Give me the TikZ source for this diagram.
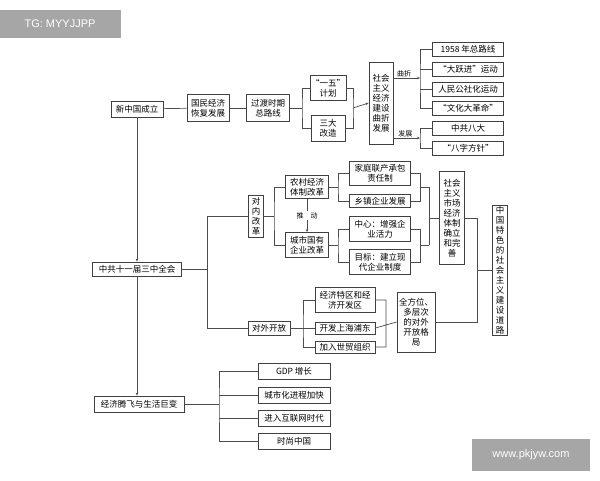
\documentclass[tikz,border=0pt]{standalone}
\usepackage{fontspec}
\setmainfont{Liberation Sans}
\newfontfamily\cjk{Noto Sans CJK SC}
\usetikzlibrary{arrows.meta}
\begin{document}
\begin{tikzpicture}[x=1pt,y=-1pt,
  bx/.style={draw=black!75,line width=0.8pt,fill=white,inner sep=1pt,align=center,font=\cjk\fontsize{8.5}{10}\selectfont},
  ln/.style={draw=black!70,line width=0.7pt},
  ar/.style={ln,-{Stealth[length=3pt,width=2.5pt]}},
  lab/.style={font=\cjk\fontsize{7}{8}\selectfont,inner sep=1pt},
  wm/.style={fill=black!35,text=white,font=\fontsize{11}{12}\selectfont,inner sep=0pt}]
\useasboundingbox (0,0) rectangle (600,480);
\fill[white] (0,0) rectangle (600,480);
\node[wm,minimum width=122,minimum height=28] (w1) at (60,24) {TG: MYYJJPP};
\node[wm,minimum width=118,minimum height=32] (w2) at (531,455) {www.pkjyw.com};
% top row
\node[bx,minimum width=52,minimum height=16] (xz) at (137,109) {新中国成立};
\node[bx,minimum width=42,minimum height=27] (gm) at (208,108) {国民经济\\恢复发展};
\node[bx,minimum width=43,minimum height=27] (gd) at (268,108) {过渡时期\\总路线};
\node[bx,minimum width=34,minimum height=25] (yw) at (328,88) {“一五”\\计划};
\node[bx,minimum width=34,minimum height=26] (sd) at (328,128) {三大\\改造};
\node[bx,minimum width=24,minimum height=82] (sh) at (381,103) {社会\\主义\\经济\\建设\\曲折\\发展};
\foreach \n/\t/\y in {a1/1958 {\cjk 年总路线}/49, a2/“大跃进”运动/69, a3/人民公社化运动/89, a4/“文化大革命”/108, b1/中共八大/128, b2/“八字方针”/148}
  \node[bx,minimum width=71,minimum height=14] (\n) at (468,\y) {\t};
\draw[ln] (xz) -- (gm); \draw[ln] (gm) -- (gd);
\coordinate (j1) at (302,108); \coordinate (j2) at (353,108);
\draw[ln] (gd) -- (j1) (yw.west) -| (j1) |- (sd.west);
\draw[ln] (yw.east) -| (j2) |- (sd.east);
\draw[ar] (j2) -- (sh.west);
\coordinate (q) at (420,78); \coordinate (f) at (420,138);
\draw[ar] (sh.east |- q) -- node[lab,above,pos=0.4]{曲折} (q);
\draw[ln] (a1.west) -| (q) |- (a4.west) (q |- a2.west) -- (a2.west) (q |- a3.west) -- (a3.west);
\draw[ar] (sh.east |- f) -- node[lab,above,pos=0.45]{发展} (f);
\draw[ln] (b1.west) -| (f) |- (b2.west);
% middle
\node[bx,minimum width=89,minimum height=14] (sz) at (137,269) {中共十一届三中全会};
\draw[ar] (xz) -- (sz);
\node[bx,minimum width=15,minimum height=42] (dn) at (256,216) {对\\内\\改\\革};
\node[bx,minimum width=42,minimum height=14] (dw) at (269,328) {对外开放};
\coordinate (k1) at (207,269);
\draw[ln] (sz) -- (k1) (k1 |- dn) -- (dn.west) (k1 |- dn) -- (k1 |- dw) -- (dw.west);
\node[bx,minimum width=43,minimum height=23] (nc) at (307,187) {农村经济\\体制改革};
\node[bx,minimum width=43,minimum height=25] (cs) at (307,245) {城市国有\\企业改革};
\draw[ln] (dn.east) -- (274,216) (nc.west) -| (274,216) |- (cs.west);
\draw[ar] (nc) -- node[lab,fill=white]{推\quad 动} (cs);
\node[bx,minimum width=61,minimum height=24] (jt) at (380,173) {家庭联产承包\\责任制};
\node[bx,minimum width=61,minimum height=13] (xzq) at (380,201) {乡镇企业发展};
\node[bx,minimum width=61,minimum height=25] (zx) at (380,229) {中心：增强企\\业活力};
\node[bx,minimum width=61,minimum height=25] (mb) at (380,262) {目标：建立现\\代企业制度};
\draw[ln] (nc.east) -- (338,187) (jt.west) -| (338,187) |- (xzq.west);
\draw[ln] (cs.east) -- (338,245) (zx.west) -| (338,245) |- (mb.west);
\node[bx,minimum width=25,minimum height=93] (sc) at (452,218) {社会\\主义\\市场\\经济\\体制\\确立\\和完\\善};
\draw[ln] (jt.east) -- (420,173) -- (420,201) -- (xzq.east) (420,187) -- (429,187);
\draw[ln] (zx.east) -- (420,229) -- (420,262) -- (mb.east) (420,245) -- (429,245);
\draw[ln] (429,187) -- (429,245) (429,218) -- (sc.west);
\node[bx,minimum width=15,minimum height=123] (zg) at (500,270) {中\\国\\特\\色\\的\\社\\会\\主\\义\\建\\设\\道\\路};
\node[bx,minimum width=38,minimum height=60] (qf) at (416,322) {全方位、\\多层次\\的对外\\开放格\\局};
\draw[ln] (sc.east) -- (477,218) -- (477,322) -- (qf.east) (477,270) -- (zg.west);
\node[bx,minimum width=60,minimum height=25] (jj) at (345,300) {经济特区和经\\济开发区};
\node[bx,minimum width=60,minimum height=12] (pd) at (345,328) {开发上海浦东};
\node[bx,minimum width=60,minimum height=12] (sm) at (345,347) {加入世贸组织};
\draw[ln] (dw.east) -- (pd.west) (jj.west) -| (303,328) |- (sm.west);
\draw[ln] (jj.east) -| (386,328) |- (sm.east) (pd.east) -- (qf.west);
% bottom
\node[bx,minimum width=90,minimum height=16] (jf) at (139,404) {经济腾飞与生活巨变};
\draw[ar] (sz) -- (jf.north -| sz);
\foreach \n/\t/\y in {c1/GDP {\cjk 增长}/371, c2/城市化进程加快/395, c3/进入互联网时代/418, c4/时尚中国/441}
  \node[bx,minimum width=72,minimum height=16] (\n) at (294,\y) {\t};
\draw[ln] (jf.east) -- (219,404) (c1.west) -| (219,404) |- (c4.west) (219,395) -- (c2.west) (219,418) -- (c3.west);
\end{tikzpicture}
\end{document}
